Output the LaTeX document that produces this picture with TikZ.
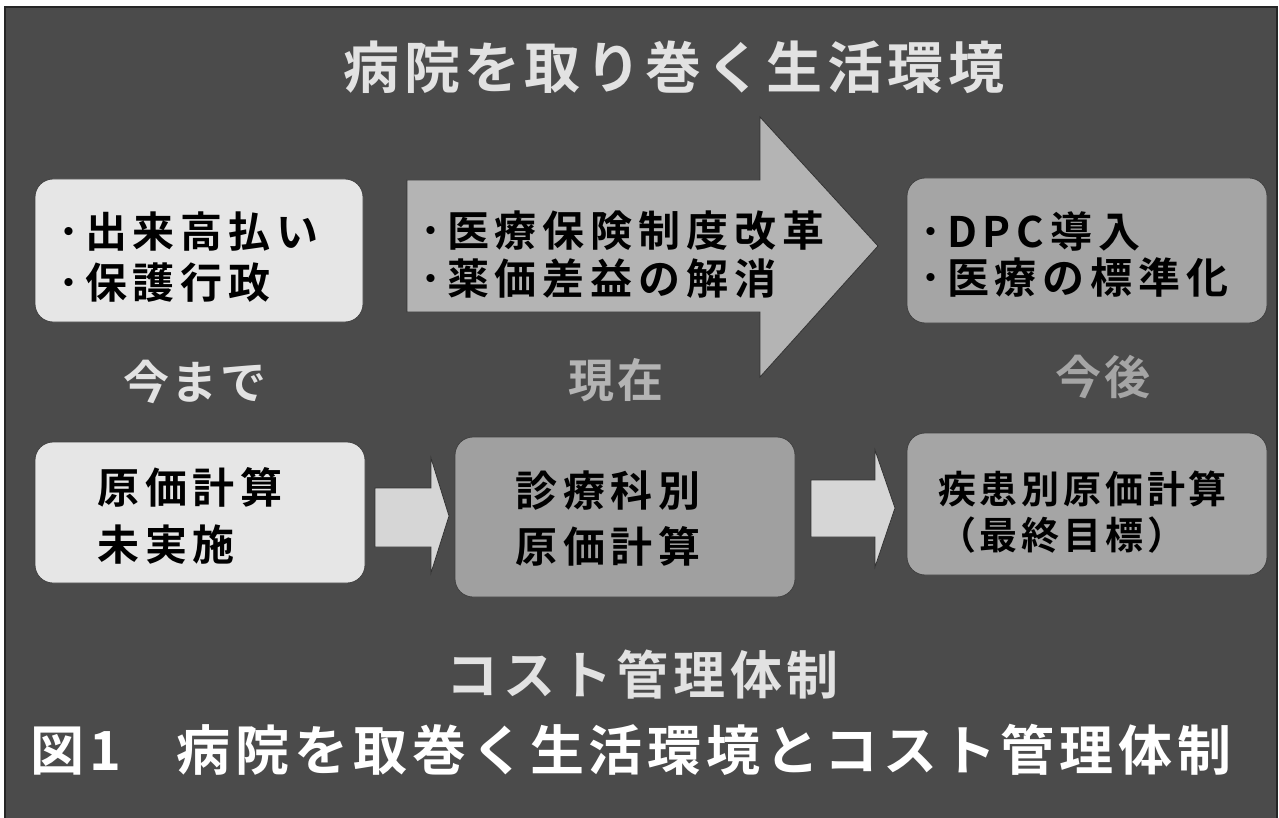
\documentclass[tikz,border=0pt]{standalone}
\usepackage{fontspec}
\setmainfont{Noto Sans CJK JP}[BoldFont={Noto Sans CJK JP Bold}]
\definecolor{bg}{HTML}{4B4B4B}
\definecolor{boxlight}{HTML}{E6E6E6}
\definecolor{boxmid}{HTML}{A5A5A5}
\definecolor{arrowbig}{HTML}{B4B4B4}
\definecolor{arrowsmall}{HTML}{D6D6D6}
\definecolor{titlegray}{HTML}{E2E2E2}
\tikzset{
  roundbox/.style={draw=black!75, line width=0.8pt, rounded corners=18pt},
  boxtext/.style={font=\bfseries\addfontfeatures{LetterSpace=14}\fontsize{42}{#1}\selectfont,
    align=left, inner sep=0pt, anchor=west, text=black},
  boxtext/.default=51,
  smalltext/.style={font=\bfseries\addfontfeatures{LetterSpace=10}\fontsize{38}{46}\selectfont,
    align=left, inner sep=0pt, anchor=west, text=black},
  phase/.style={font=\bfseries\addfontfeatures{LetterSpace=6}\fontsize{46}{50}\selectfont, inner sep=0pt},
  blockarrow/.style={draw=black!80, line width=0.8pt, line join=miter},
}
\begin{document}
\begin{tikzpicture}[x=1pt,y=-1pt]
\useasboundingbox (0,0) rectangle (1279,818);
\fill[white] (0,0) rectangle (1279,818);
\draw[fill=bg, draw=black!85, line width=1.5pt] (5,7) rectangle (1277,819);

% title
\node[font=\bfseries\addfontfeatures{LetterSpace=8}\fontsize{56}{60}\selectfont, text=titlegray, inner sep=0pt]
  (title) at (674,67) {病院を取り巻く生活環境};

% top row
\draw[roundbox, fill=boxlight] (35,179) rectangle (363,322);
\node[boxtext=51] (past) at (58,257) {･出来高払い\\･保護行政};

\draw[blockarrow, fill=arrowbig] (407,180) -- (760,180) -- (760,117) -- (878,246) -- (760,377) -- (760,312) -- (407,312) -- cycle;
\node[boxtext=48] (now) at (420,255) {･医療保険制度改革\\･薬価差益の解消};

\draw[roundbox, fill=boxmid] (907,178) rectangle (1267,323);
\node[boxtext=46] (future) at (920,255) {･DPC導入\\･医療の標準化};

% phase labels
\node[phase, text=titlegray] (lbpast) at (195,382) {今まで};
\node[phase, text=arrowbig] (lbnow) at (616,380) {現在};
\node[phase, text=boxmid] (lbfuture) at (1103,377) {今後};

% bottom row
\draw[roundbox, fill=boxlight] (35,442) rectangle (365,583);
\node[boxtext=57] (costA) at (97,516) {原価計算\\未実施};

\draw[roundbox, fill=boxmid!105] (455,437) rectangle (795,597);
\node[boxtext=56] (costB) at (515,519) {診療科別\\原価計算};

\draw[roundbox, fill=boxmid] (907,433) rectangle (1267,575);
\node[smalltext] (costC) at (938,512) {疾患別原価計算\\（最終目標）};

\draw[blockarrow, fill=arrowsmall] (375,488) -- (431,488) -- (431,458) -- (449,516) -- (431,573) -- (431,547) -- (375,547) -- cycle;
\draw[blockarrow, fill=arrowsmall] (811,480) -- (875,480) -- (875,450) -- (895,508) -- (875,567) -- (875,537) -- (811,537) -- cycle;

% bottom heading
\node[font=\bfseries\addfontfeatures{LetterSpace=9}\fontsize{52}{56}\selectfont, text=titlegray, inner sep=0pt]
  (system) at (643,675) {コスト管理体制};

% caption
\node[font=\bfseries\addfontfeatures{LetterSpace=9}\fontsize{54}{60}\selectfont, text=white, inner sep=0pt, anchor=west]
  (caption) at (30,750) {図1\hspace{56pt}病院を取巻く生活環境とコスト管理体制};
\end{tikzpicture}
\end{document}
